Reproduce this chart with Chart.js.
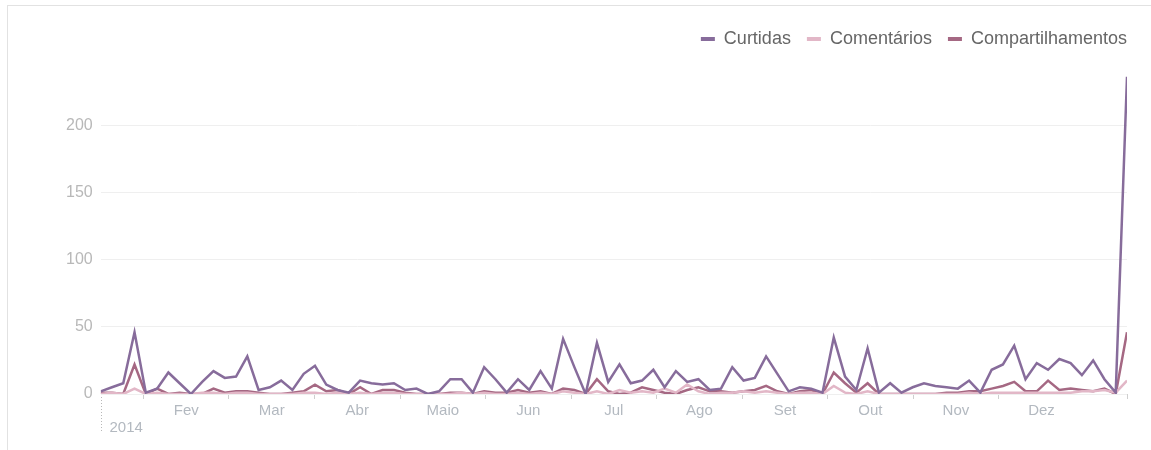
<!DOCTYPE html>
<html>
<head>
<meta charset="utf-8">
<script src="https://cdn.jsdelivr.net/npm/chart.js@4/dist/chart.umd.min.js"></script>
<style>
  html, body { margin: 0; padding: 0; background: #fff; }
  #frame { position: absolute; left: 7px; top: 5px; width: 1144px; height: 445px;
           border-left: 1px solid #e2e2e2; border-top: 1px solid #e2e2e2; box-sizing: border-box; }
  #c { position: absolute; left: 0; top: 0; }
</style>
</head>
<body>
<div id="frame"></div>
<canvas id="c" width="1151" height="450"></canvas>
<script>
const seriesNames = ['Curtidas', 'Comentários', 'Compartilhamentos'];
const monthLabels = ['Fev', 'Mar', 'Abr', 'Maio', 'Jun', 'Jul', 'Ago', 'Set', 'Out', 'Nov', 'Dez'];
const yearLabel = '2014';
const yTickValues = [0, 50, 100, 150, 200];

const curtidas = [
  2, 5, 8, 46, 1, 4, 16, 8, 0, 9,
  17, 12, 13, 28, 3, 5, 10, 3, 15, 21,
  7, 3, 1, 10, 8, 7, 8, 3, 4, 0,
  2, 11, 11, 1, 20, 11, 1, 11, 3, 17,
  4, 41, 20, 0, 38, 9, 22, 8, 10, 18,
  5, 17, 9, 11, 3, 4, 20, 10, 12, 28,
  15, 2, 5, 4, 1, 42, 13, 3, 34, 1,
  8, 1, 5, 8, 6, 5, 4, 10, 1, 18,
  22, 36, 11, 23, 18, 26, 23, 14, 25, 11,
  1, 236
];
const comentarios = [
  0, 1, 0, 4, 0, 1, 0, 0, 0, 1,
  1, 0, 1, 1, 0, 0, 0, 0, 1, 1,
  0, 1, 0, 1, 0, 1, 1, 0, 0, 0,
  0, 0, 1, 0, 1, 0, 0, 1, 0, 1,
  0, 2, 1, 0, 2, 0, 3, 1, 2, 1,
  4, 1, 7, 2, 0, 1, 1, 2, 1, 2,
  1, 0, 1, 1, 0, 6, 1, 0, 2, 0,
  0, 0, 0, 0, 0, 0, 0, 1, 0, 1,
  1, 1, 1, 1, 1, 1, 1, 2, 2, 3,
  1, 10
];
const compartilhamentos = [
  1, 1, 0, 22, 0, 4, 0, 1, 0, 0,
  4, 1, 2, 2, 1, 0, 0, 1, 2, 7,
  2, 3, 0, 5, 0, 3, 3, 1, 0, 0,
  0, 1, 1, 0, 2, 1, 1, 3, 1, 2,
  0, 4, 3, 0, 11, 2, 0, 1, 5, 3,
  1, 0, 3, 5, 2, 2, 1, 2, 3, 6,
  2, 0, 2, 3, 0, 16, 8, 1, 8, 0,
  0, 0, 0, 0, 0, 1, 1, 2, 2, 4,
  6, 9, 2, 2, 10, 3, 4, 3, 2, 4,
  0, 46
];

const colors = ['#876c9b', '#e2b7c7', '#a56883'];
const N = curtidas.length;
const LAST = N - 1;
const MONTH = LAST / 12;           // series spans mid-January to mid-January
const LEGEND_GAP = 16;
const toPoints = arr => arr.map((v, i) => ({ x: i, y: v }));

const midMap = new Map();
monthLabels.forEach((m, k) => midMap.set(+((k + 1) * MONTH).toFixed(6), m));

const yearPlugin = {
  id: 'yearMarker',
  afterLayout(chart) {
    if (chart.legend) { chart.legend.left += LEGEND_GAP; chart.legend.right += LEGEND_GAP; }
  },
  afterDraw(chart) {
    const { ctx, scales: { x }, chartArea } = chart;
    const px = Math.round(x.getPixelForValue(0)) + 0.5;
    ctx.save();
    ctx.strokeStyle = '#b8b8b8';
    ctx.lineWidth = 1;
    ctx.setLineDash([1, 2]);
    ctx.beginPath();
    ctx.moveTo(px, chartArea.bottom + 3);
    ctx.lineTo(px, chartArea.bottom + 38);
    ctx.stroke();
    ctx.setLineDash([]);
    ctx.fillStyle = '#b3b9c0';
    ctx.font = '15px "Liberation Sans", Arial, sans-serif';
    ctx.textAlign = 'left';
    ctx.textBaseline = 'middle';
    ctx.fillText(yearLabel, px + 8, chartArea.bottom + 34);
    ctx.restore();
  }
};

new Chart(document.getElementById('c'), {
  type: 'line',
  data: {
    datasets: [
      { label: seriesNames[0], data: toPoints(curtidas), borderColor: colors[0], backgroundColor: colors[0] },
      { label: seriesNames[1], data: toPoints(comentarios), borderColor: colors[1], backgroundColor: colors[1] },
      { label: seriesNames[2], data: toPoints(compartilhamentos), borderColor: colors[2], backgroundColor: colors[2] }
    ]
  },
  options: {
    responsive: false,
    animation: false,
    elements: {
      line: { borderWidth: 2.5, tension: 0, borderJoinStyle: 'miter' },
      point: { radius: 0, hoverRadius: 0 }
    },
    layout: { padding: { left: 58, right: 24, top: 14, bottom: 27 } },
    plugins: {
      legend: {
        position: 'top',
        align: 'end',
        labels: {
          boxWidth: 14,
          boxHeight: 4,
          padding: LEGEND_GAP,
          color: '#666',
          font: { family: '"Liberation Sans", Arial, sans-serif', size: 18 },
          generateLabels(chart) {
            const items = Chart.defaults.plugins.legend.labels.generateLabels(chart);
            items.forEach(it => { it.lineWidth = 0; });
            return items;
          }
        }
      },
      tooltip: { enabled: false }
    },
    scales: {
      x: {
        type: 'linear',
        min: 0,
        max: LAST,
        border: { display: false },
        grid: {
          drawOnChartArea: false,
          drawTicks: true,
          tickLength: 5,
          color: ctx => (ctx.tick && midMap.has(+ctx.tick.value.toFixed(6))) ? 'rgba(0,0,0,0)' : '#cfcfcf'
        },
        afterBuildTicks(scale) {
          const t = [];
          for (let m = 1; m <= 11; m++) {
            t.push({ value: (m - 0.5) * MONTH });
            t.push({ value: m * MONTH });
          }
          t.push({ value: LAST });
          scale.ticks = t;
        },
        ticks: {
          autoSkip: false,
          maxRotation: 0,
          padding: 3,
          color: '#b3b9c0',
          font: { family: '"Liberation Sans", Arial, sans-serif', size: 15 },
          callback: v => midMap.get(+(+v).toFixed(6)) || ''
        }
      },
      y: {
        type: 'linear',
        min: 0,
        max: 250,
        border: { display: false },
        grid: { color: '#efefef', drawTicks: false, lineWidth: 1 },
        afterBuildTicks(scale) {
          scale.ticks = yTickValues.map(v => ({ value: v }));
        },
        ticks: {
          padding: 8,
          color: '#b8b8b8',
          font: { family: '"Liberation Sans", Arial, sans-serif', size: 16 }
        }
      }
    }
  },
  plugins: [yearPlugin]
});
</script>
</body>
</html>
